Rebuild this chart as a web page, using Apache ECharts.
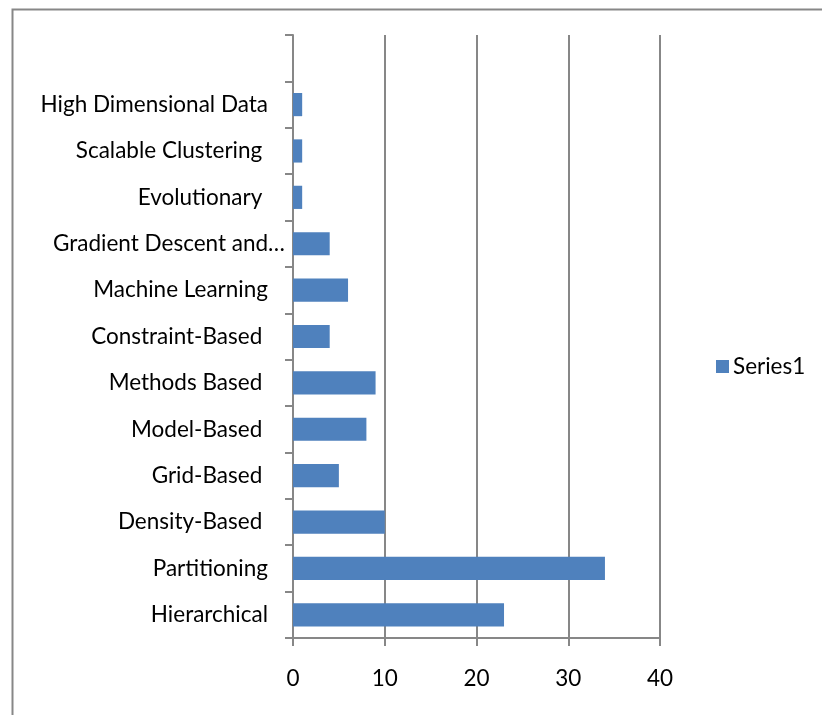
<!DOCTYPE html>
<html>
<head>
<meta charset="utf-8">
<script src="https://cdn.jsdelivr.net/npm/echarts@6/dist/echarts.min.js"></script>
<style>
  html, body { margin: 0; padding: 0; background: #fff; }
  #chart { width: 822px; height: 715px; }
</style>
</head>
<body>
<div id="chart"></div>
<script>
// categories listed bottom to top; last slot is left empty like the source chart
const categories = [
  'Hierarchical', 'Partitioning', 'Density-Based ', 'Grid-Based ', 'Model-Based ',
  'Methods Based ', 'Constraint-Based ', 'Machine Learning', 'Gradient Descent and…',
  'Evolutionary ', 'Scalable Clustering ', 'High Dimensional Data', ''
];
const series1 = [23, 34, 10, 5, 8, 9, 4, 6, 4, 1, 1, 1, null];
const xTicks = { min: 0, max: 40, interval: 10 };

const FONT = 'Lato';
const FS = 22.5;
const GRAY = '#878787';

const chart = echarts.init(document.getElementById('chart'));

chart.setOption({
  backgroundColor: '#fff',
  animation: false,
  textStyle: { fontFamily: FONT },
  graphic: [
    {
      // outer chart frame (right/bottom edges run off the picture)
      type: 'rect',
      left: 10, top: 7,
      shape: { width: 840, height: 740 },
      style: { fill: 'none', stroke: GRAY, lineWidth: 2 },
      silent: true
    }
  ],
  legend: {
    left: 711, top: 350,
    itemWidth: 13, itemHeight: 13, itemGap: 6,
    icon: 'rect',
    textStyle: { fontFamily: FONT, fontSize: FS, color: '#000', padding: [0, 0, 0, -1] },
    data: ['Series1']
  },
  grid: { left: 293, right: 162, top: 35, bottom: 77, containLabel: false },
  xAxis: {
    type: 'value',
    min: xTicks.min, max: xTicks.max, interval: xTicks.interval,
    axisLine: { show: true, lineStyle: { color: GRAY, width: 2 } },
    axisTick: { show: true, length: 8, lineStyle: { color: GRAY, width: 2 } },
    axisLabel: { margin: 29, fontFamily: FONT, fontSize: FS, color: '#000' },
    splitLine: { show: true, lineStyle: { color: GRAY, width: 2 } }
  },
  yAxis: {
    type: 'category',
    data: categories,
    axisLine: { show: true, lineStyle: { color: GRAY, width: 2 } },
    axisTick: { show: true, length: 8, alignWithLabel: false, lineStyle: { color: GRAY, width: 2 } },
    axisLabel: {
      margin: 8,
      fontFamily: FONT, fontSize: FS, color: '#000',
      formatter: (v) => v.endsWith('…') ? '{b|' + v + '}' : '{a|' + v + '}',
      rich: {
        a: { fontFamily: FONT, fontSize: FS, color: '#000', padding: [0, 17, 0, 0] },
        b: { fontFamily: FONT, fontSize: FS, color: '#000' }
      }
    },
    splitLine: { show: false }
  },
  series: [
    {
      name: 'Series1',
      type: 'bar',
      data: series1,
      barWidth: '50%',
      itemStyle: { color: '#4F81BD' }
    }
  ]
});
</script>
</body>
</html>
